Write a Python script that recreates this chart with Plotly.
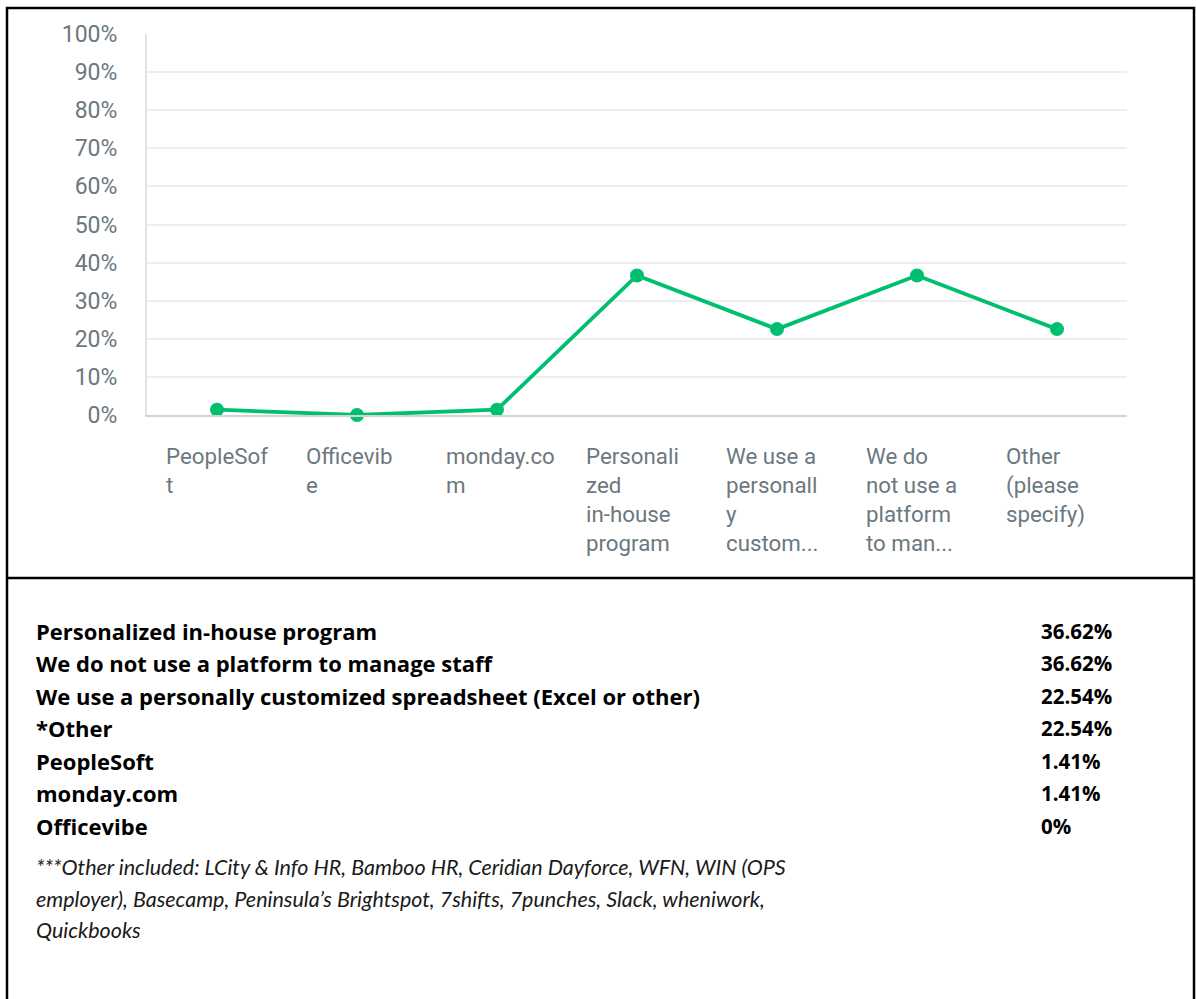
import plotly.graph_objects as go

W, H = 1196, 999

# ---- data ----
chart_categories = ["PeopleSoft", "Officevibe", "monday.com", "Personalized in-house program",
                    "We use a personally customized spreadsheet", "We do not use a platform to manage staff",
                    "Other (please specify)"]
chart_tick_labels = ["PeopleSof<br>t", "Officevib<br>e", "monday.co<br>m", "Personali<br>zed<br>in-house<br>program",
                     "We use a<br>personall<br>y<br>custom...", "We do<br>not use a<br>platform<br>to man...",
                     "Other<br>(please<br>specify)"]
chart_values = [1.41, 0, 1.41, 36.62, 22.54, 36.62, 22.54]
y_ticks = [0, 10, 20, 30, 40, 50, 60, 70, 80, 90, 100]
y_tick_labels = ["0%", "10%", "20%", "30%", "40%", "50%", "60%", "70%", "80%", "90%", "100%"]

table_labels = ["Personalized in-house program", "We do not use a platform to manage staff",
                "We use a personally customized spreadsheet (Excel or other)", "*Other",
                "PeopleSoft", "monday.com", "Officevibe"]
table_values = [36.62, 36.62, 22.54, 22.54, 1.41, 1.41, 0]

note_lines = ["***Other included: LCity & Info HR, Bamboo HR, Ceridian Dayforce, WFN, WIN (OPS",
              "employer), Basecamp, Peninsula’s Brightspot, 7shifts, 7punches, Slack, wheniwork,",
              "Quickbooks"]


def px(x):
    return x / W


def py(y):
    return 1 - y / H


GREEN = "#00BF6F"
GRAY_TXT = "#6B787F"

fig = go.Figure()
fig.add_trace(go.Scatter(
    x=chart_categories, y=chart_values, mode="lines+markers",
    line=dict(color=GREEN, width=3.8),
    marker=dict(color=GREEN, size=14),
    cliponaxis=False, hoverinfo="skip", showlegend=False,
))

plot_top, plot_bot = 34, 415
fig.update_layout(
    width=W, height=H, autosize=False,
    margin=dict(l=0, r=0, t=0, b=0, pad=0, autoexpand=False),
    showlegend=False,
    paper_bgcolor="white", plot_bgcolor="white",
    xaxis=dict(domain=[px(147), px(1127)], type="category", range=[-0.5, 6.5],
               showticklabels=False, showgrid=False, zeroline=False, automargin=False,
               showline=True, linecolor="#d3d3d3", linewidth=2, fixedrange=True),
    yaxis=dict(domain=[py(plot_bot), py(plot_top)], range=[0, 100], automargin=False,
               tickmode="array", tickvals=y_ticks, ticktext=y_tick_labels,
               showgrid=True, gridcolor="#eeeeee", gridwidth=2, zeroline=False,
               showline=True, linecolor="#e4e4e4", linewidth=2,
               ticks="outside", ticklen=23, tickcolor="rgba(0,0,0,0)",
               tickfont=dict(family="Roboto", size=23, color=GRAY_TXT), fixedrange=True),
)

annotations = []
for cat, lab in zip(chart_categories, chart_tick_labels):
    annotations.append(dict(
        x=cat, xref="x", y=py(441), yref="paper", xanchor="left", yanchor="top",
        xshift=-53, text=lab, align="left", showarrow=False,
        font=dict(family="Roboto", size=22.3, color=GRAY_TXT),
    ))

row_y0, row_dy = 630.5, 32.5
for i, (lab, val) in enumerate(zip(table_labels, table_values)):
    y = py(row_y0 + i * row_dy)
    vtxt = "0%" if val == 0 else f"{val:.2f}%"
    annotations.append(dict(x=px(34), y=y, xref="paper", yref="paper", xanchor="left", yanchor="middle",
                            text=f"<b>{lab}</b>", showarrow=False,
                            font=dict(family="Open Sans", size=22, color="#000000")))
    annotations.append(dict(x=px(1039), y=y, xref="paper", yref="paper", xanchor="left", yanchor="middle",
                            text=f"<b>{vtxt}</b>", showarrow=False,
                            font=dict(family="Open Sans", size=20.5, color="#000000")))

note_y0, note_dy = 867, 31.5
for i, line in enumerate(note_lines):
    annotations.append(dict(x=px(34), y=py(note_y0 + i * note_dy), xref="paper", yref="paper",
                            xanchor="left", yanchor="middle", text=f"<i>{line}</i>", showarrow=False,
                            font=dict(family="Lato", size=21.5, color="#1a1a1a")))

fig.update_layout(annotations=annotations)

shapes = [
    dict(type="rect", xref="paper", yref="paper", x0=px(7), x1=px(1194), y0=py(1006), y1=py(8),
         line=dict(color="black", width=2.5), fillcolor="rgba(0,0,0,0)", layer="above"),
    dict(type="line", xref="paper", yref="paper", x0=px(7), x1=px(1194), y0=py(578), y1=py(578),
         line=dict(color="black", width=2.5), layer="above"),
]
fig.update_layout(shapes=shapes)

fig.write_html("out.html", config={"displayModeBar": False},
               post_script="document.body.style.margin='0';document.body.style.overflow='hidden';")
